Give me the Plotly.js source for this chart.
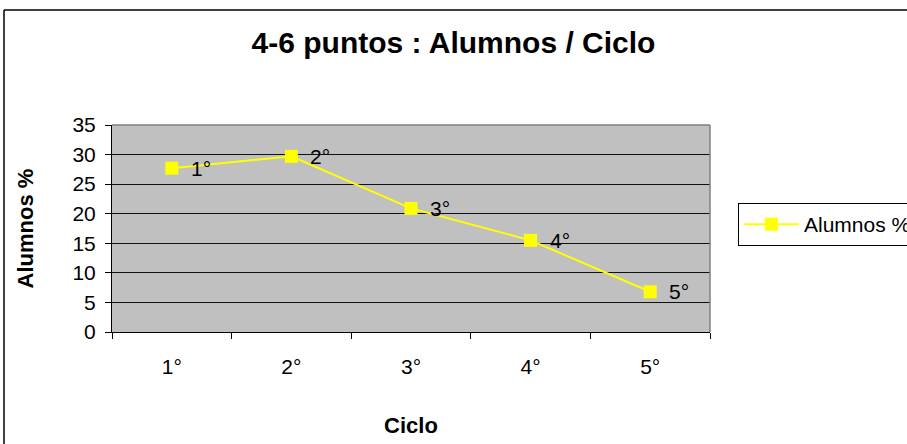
<!DOCTYPE html>
<html>
<head>
<meta charset="utf-8">
<script src="https://cdn.plot.ly/plotly-3.0.1.min.js"></script>
<style>
  html, body { margin: 0; padding: 0; background: #fff; }
  #chart { width: 907px; height: 444px; }
</style>
</head>
<body>
<div id="chart"></div>
<script>
const categories = ["1°", "2°", "3°", "4°", "5°"];
const alumnosPct = [27.7, 29.7, 20.9, 15.5, 6.8];
const pointLabels = ["1°", "2°", "3°", "4°", "5°"];
const seriesName = "Alumnos %";
const yTicks = [0, 5, 10, 15, 20, 25, 30, 35];

const M = { l: 112, r: 197, t: 125, b: 112 };
const W = 907, H = 444;
const pw = W - M.l - M.r, ph = H - M.t - M.b;
const px2x = px => (px - M.l) / pw;
const py2y = py => (H - M.b - py) / ph;

const FONT = "Liberation Sans, Arial, sans-serif";

const trace = {
  x: categories,
  y: alumnosPct,
  name: seriesName,
  type: "scatter",
  mode: "lines+markers",
  line: { color: "#FFFF00", width: 2 },
  marker: { symbol: "square", size: 13, color: "#FFFF00", line: { width: 0 } },
  cliponaxis: false
};

const labelAnnotations = categories.map((c, i) => ({
  x: c, y: alumnosPct[i], xref: "x", yref: "y",
  text: pointLabels[i], showarrow: false,
  xanchor: "left", yanchor: "middle", xshift: 17, yshift: 0,
  font: { family: FONT, size: 21, color: "#000" }
}));

const layout = {
  width: W, height: H,
  margin: { l: M.l, r: M.r, t: M.t, b: M.b, autoexpand: false },
  paper_bgcolor: "#ffffff",
  plot_bgcolor: "#C0C0C0",
  font: { family: FONT, color: "#000" },
  title: {
    text: "<b>4-6 puntos : Alumnos / Ciclo</b>",
    font: { family: FONT, size: 30, color: "#000" },
    xref: "container", x: 0.5, xanchor: "center",
    yref: "container", y: 1 - 42 / H, yanchor: "middle"
  },
  xaxis: {
    type: "category",
    range: [-0.5, 4.5],
    tickson: "boundaries",
    ticks: "outside", ticklen: 6, tickcolor: "#000", tickwidth: 1,
    showline: true, linecolor: "#000", linewidth: 1,
    showgrid: false, zeroline: false,
    tickfont: { family: FONT, size: 21, color: "#000" },
    ticklabelstandoff: 16,
    title: { text: "<b>Ciclo</b>", font: { family: FONT, size: 22, color: "#000" }, standoff: 40 },
    fixedrange: true
  },
  yaxis: {
    range: [0, 35],
    tickvals: yTicks,
    ticks: "outside", ticklen: 6, tickcolor: "#000", tickwidth: 1,
    showline: true, linecolor: "#000", linewidth: 1,
    showgrid: true, gridcolor: "#111", gridwidth: 1,
    zeroline: false,
    tickfont: { family: FONT, size: 21, color: "#000" },
    ticklabelstandoff: 5,
    title: { text: "<b>Alumnos %</b>", font: { family: FONT, size: 22, color: "#000" }, standoff: 32 },
    fixedrange: true
  },
  showlegend: true,
  legend: {
    x: px2x(738), xanchor: "left",
    y: py2y(203), yanchor: "top",
    bgcolor: "#ffffff",
    bordercolor: "#000", borderwidth: 1,
    font: { family: FONT, size: 21, color: "#000" },
    itemwidth: 55
  },
  annotations: labelAnnotations,
  shapes: [
    { type: "line", xref: "paper", yref: "paper", x0: 0, x1: 1, y0: 1, y1: 1, line: { color: "#808080", width: 1.5 } },
    { type: "line", xref: "paper", yref: "paper", x0: 1, x1: 1, y0: 0, y1: 1, line: { color: "#808080", width: 1.5 } },
    { type: "line", xref: "paper", yref: "paper", x0: px2x(4), x1: px2x(W + 20), y0: py2y(10), y1: py2y(10), line: { color: "#000", width: 1.5 } },
    { type: "line", xref: "paper", yref: "paper", x0: px2x(4), x1: px2x(4), y0: py2y(10), y1: py2y(H + 20), line: { color: "#000", width: 1.5 } }
  ]
};

Plotly.newPlot("chart", [trace], layout, { displayModeBar: false, staticPlot: true });
</script>
</body>
</html>
